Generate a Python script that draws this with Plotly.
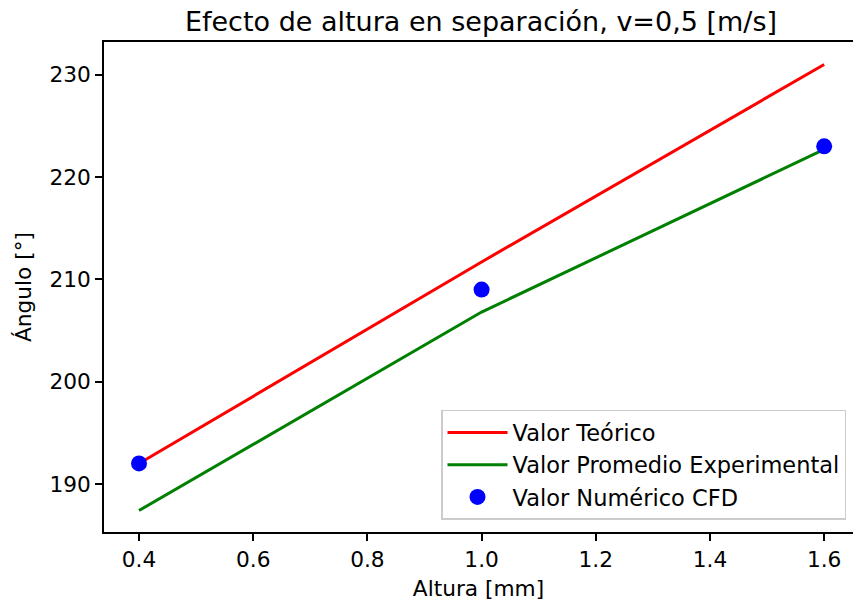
import plotly.graph_objects as go

altura = [0.4, 1.0, 1.6]
teorico = [192.0, 211.7, 231.0]
experimental = [187.4, 206.8, 222.7]
cfd = [192.0, 209.0, 223.0]

x_ticks = [0.4, 0.6, 0.8, 1.0, 1.2, 1.4, 1.6]
y_ticks = [190, 200, 210, 220, 230]

font = "DejaVu Sans"
fs = 21.7

fig = go.Figure()
fig.add_trace(go.Scatter(x=altura, y=teorico, mode="lines", name="Valor Teórico",
                         line=dict(color="red", width=3)))
fig.add_trace(go.Scatter(x=altura, y=experimental, mode="lines", name="Valor Promedio Experimental",
                         line=dict(color="green", width=3)))
fig.add_trace(go.Scatter(x=altura, y=cfd, mode="markers", name="Valor Numérico CFD",
                         marker=dict(color="blue", size=16, line=dict(width=0))))

axis_common = dict(showline=True, linecolor="black", linewidth=1.5,
                   ticks="outside", ticklen=7, tickwidth=1.5, tickcolor="black",
                   showgrid=False, zeroline=False,
                   tickfont=dict(family=font, size=fs, color="black"))

fig.update_layout(
    width=853, height=606,
    margin=dict(l=104, r=0, t=42, b=74),
    paper_bgcolor="white", plot_bgcolor="white",
    font=dict(family=font, color="black"),
    title=dict(text="Efecto de altura en separación, v=0,5 [m/s]",
               x=481 / 853, xanchor="center", y=1 - 22 / 606, yanchor="middle",
               font=dict(family=font, size=27, color="black")),
    xaxis=dict(range=[0.3387, 1.6505], tickvals=x_ticks, tickformat=".1f", mirror=True,
               title=dict(text="Altura [mm]", font=dict(family=font, size=fs), standoff=10),
               **axis_common),
    yaxis=dict(range=[185.3, 233.2], tickvals=y_ticks, mirror=False,
               title=dict(text="Ángulo [°]", font=dict(family=font, size=fs), standoff=12),
               **axis_common),
    legend=dict(x=(846 - 104) / 749, y=0.025, xanchor="right", yanchor="bottom",
                bgcolor="white", bordercolor="#cccccc", borderwidth=1.5,
                font=dict(family=font, size=22.5, color="black"),
                tracegroupgap=0, itemwidth=60),
    showlegend=True,
)

fig.write_html("out.html")
